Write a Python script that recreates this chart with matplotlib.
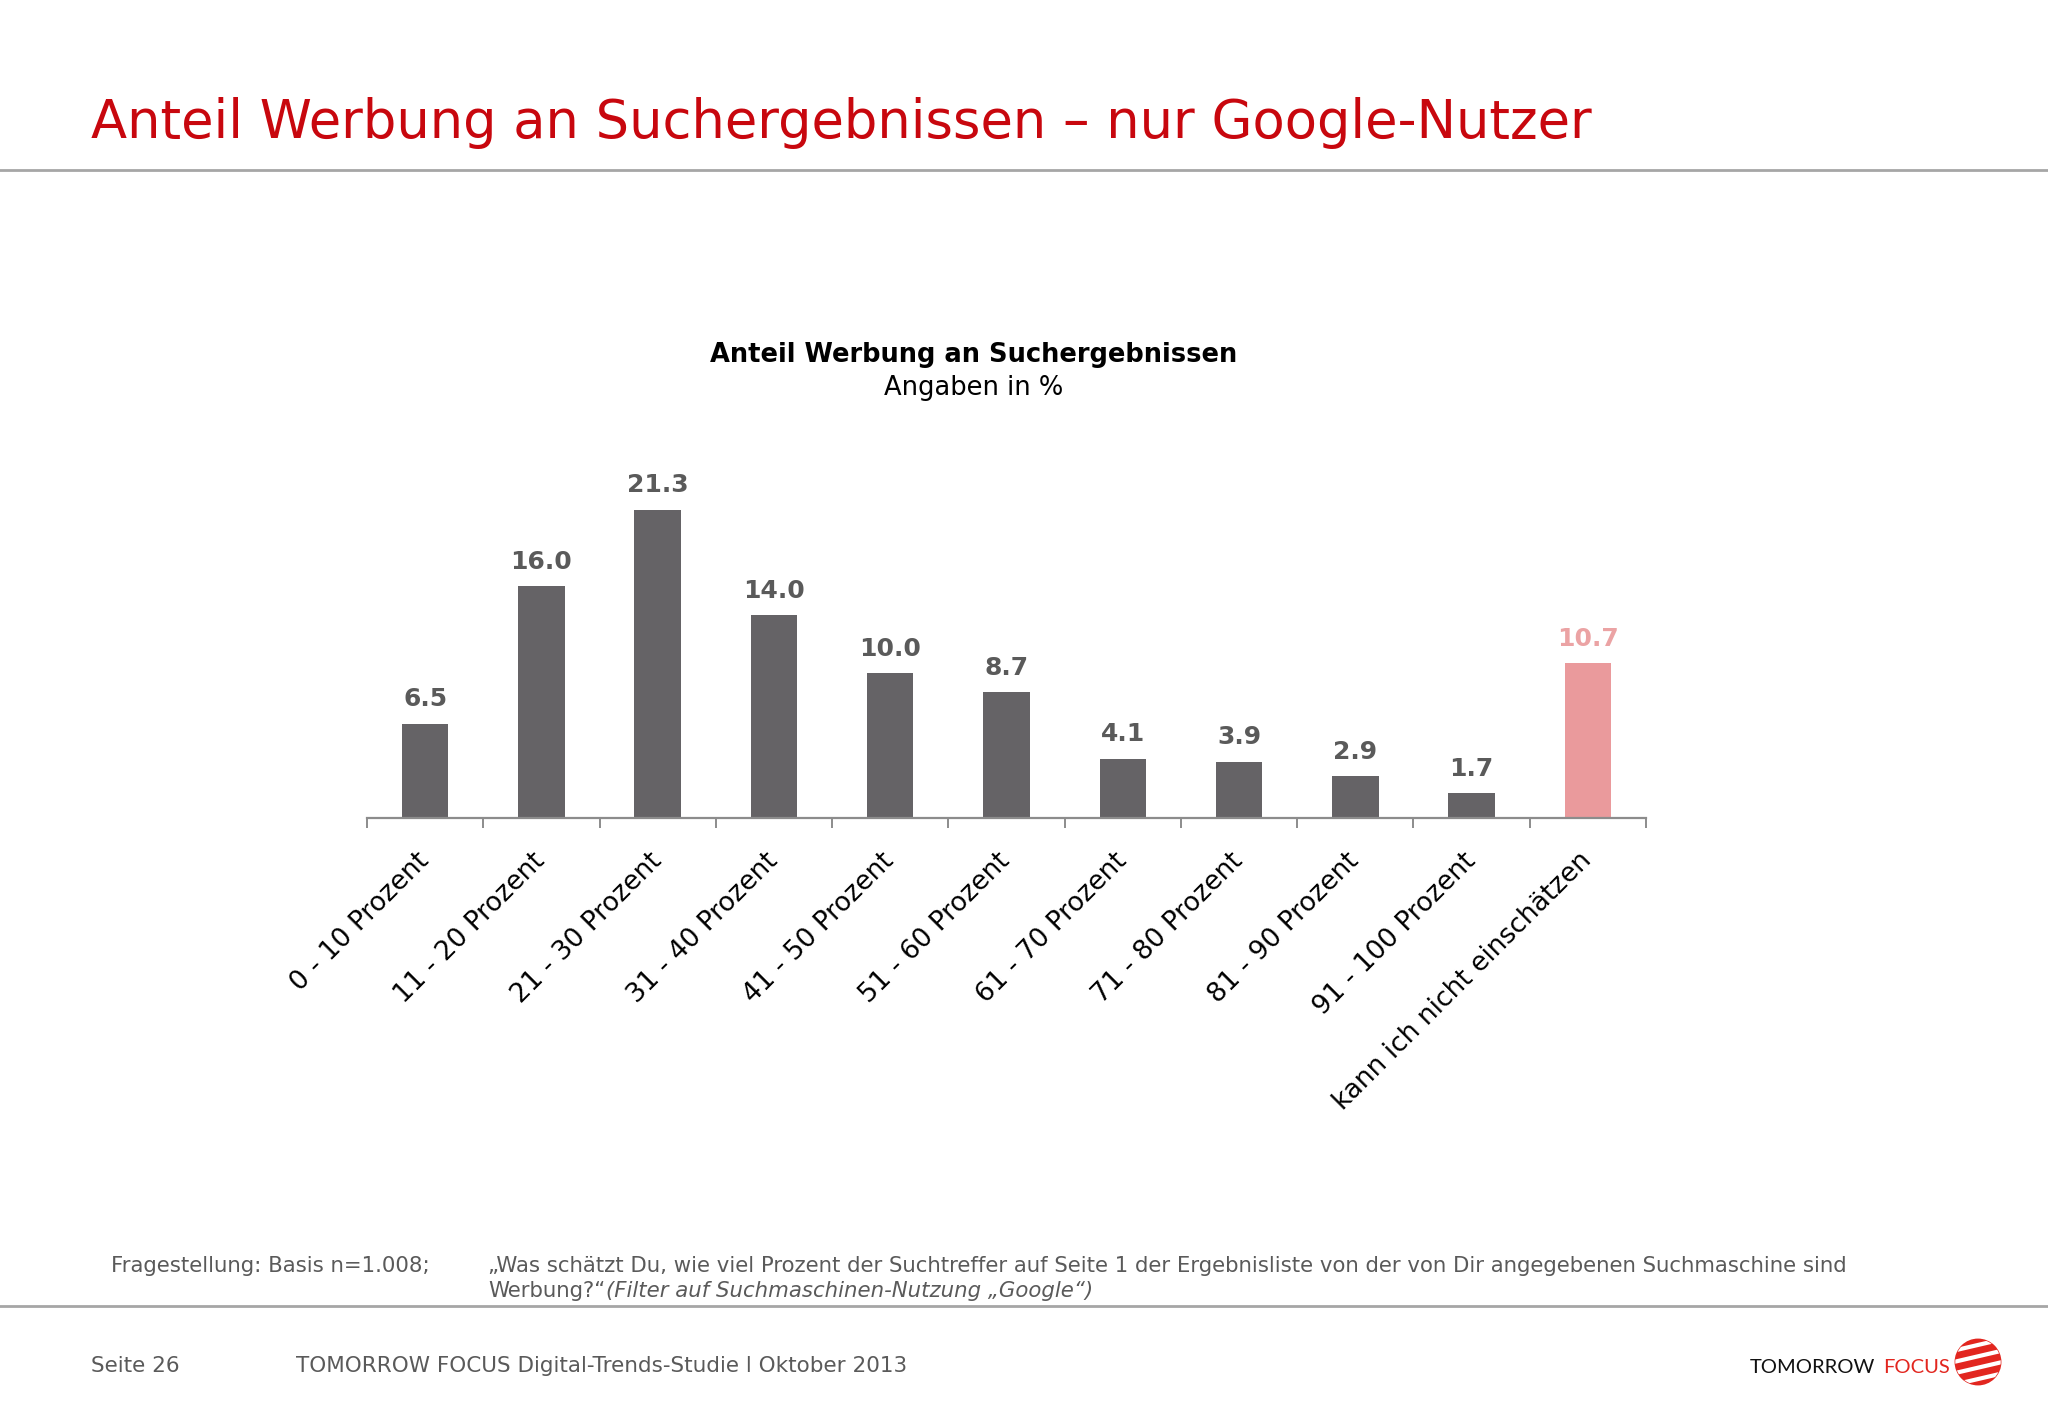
import matplotlib
matplotlib.use("Agg")
import matplotlib.pyplot as plt
import numpy as np

categories = ["0 - 10 Prozent", "11 - 20 Prozent", "21 - 30 Prozent", "31 - 40 Prozent",
              "41 - 50 Prozent", "51 - 60 Prozent", "61 - 70 Prozent", "71 - 80 Prozent",
              "81 - 90 Prozent", "91 - 100 Prozent", "kann ich nicht einschätzen"]
values = [6.5, 16.0, 21.3, 14.0, 10.0, 8.7, 4.1, 3.9, 2.9, 1.7, 10.7]
highlight = "kann ich nicht einschätzen"

GREY_BAR = "#656366"
PINK_BAR = "#EA9A9C"
GREY_TXT = "#5a5a5a"
PINK_TXT = "#EBA3A4"
RED = "#C8070E"
LINE = "#a6a6a6"

W, H = 2048, 1418
fig = plt.figure(figsize=(W / 100, H / 100), dpi=100)
fig.patch.set_facecolor("white")

def fx(px):
    return px / W

def fy(py):
    return 1 - py / H

# page title + rules
fig.text(fx(91), fy(138), "Anteil Werbung an Suchergebnissen \u2013 nur Google-Nutzer",
         color=RED, fontsize=38, ha="left", va="baseline")
fig.add_artist(plt.Line2D([0, 1], [fy(170), fy(170)], color=LINE, lw=2))
fig.add_artist(plt.Line2D([0, 1], [fy(1306), fy(1306)], color=LINE, lw=2))

# chart heading
fig.text(fx(974), fy(355), "Anteil Werbung an Suchergebnissen", fontsize=18.5,
         fontweight="bold", color="black", ha="center", va="center")
fig.text(fx(974), fy(388), "Angaben in %", fontsize=18.5, color="black",
         ha="center", va="center")

# bar axes
ymax = 25
px_per_unit = 14.47
ax_h = ymax * px_per_unit
ax = fig.add_axes([fx(367), fy(818), fx(1646) - fx(367), ax_h / H])
x = np.arange(len(categories))
colors = [PINK_BAR if c == highlight else GREY_BAR for c in categories]
bars = ax.bar(x, values, width=0.4, color=colors, zorder=2)
for xi, v, c in zip(x, values, categories):
    ax.annotate(f"{v:.1f}", (xi, v), xytext=(0, 9), textcoords="offset points",
                ha="center", va="bottom", fontsize=18, fontweight="bold",
                color=PINK_TXT if c == highlight else GREY_TXT)

ax.set_xlim(-0.5, len(categories) - 0.5)
ax.set_ylim(0, ymax)
for s in ["top", "right", "left"]:
    ax.spines[s].set_visible(False)
ax.spines["bottom"].set_color("#8c8c8c")
ax.spines["bottom"].set_linewidth(1.6)
ax.set_yticks([])
ax.set_xticks(np.arange(-0.5, len(categories)), minor=True)
ax.tick_params(axis="x", which="minor", length=7, width=1.4, color="#8c8c8c")
ax.set_xticks(x)
ax.set_xticklabels(categories, rotation=45, ha="right", va="center",
                   rotation_mode="anchor", fontsize=19)
ax.tick_params(axis="x", which="major", length=0, pad=28)
ax.patch.set_alpha(0)

# footnote
foot_kw = dict(fontsize=15.3, color=GREY_TXT, ha="left", va="baseline")
fig.text(fx(111), fy(1272), "Fragestellung: Basis n=1.008;", **foot_kw)
fig.text(fx(488), fy(1272), "\u201eWas schätzt Du, wie viel Prozent der Suchtreffer auf Seite 1 "
         "der Ergebnisliste von der von Dir angegebenen Suchmaschine sind", **foot_kw)
t2 = fig.text(fx(488), fy(1297), "Werbung?\u201c", **foot_kw)
fig.canvas.draw()
bb = t2.get_window_extent()
fig.text(fx(bb.x1 + 1), fy(1297), "(Filter auf Suchmaschinen-Nutzung \u201eGoogle\u201c)",
         style="italic", **foot_kw)

# page footer
fig.text(fx(91), fy(1372), "Seite 26", fontsize=15.5, color=GREY_TXT, ha="left", va="baseline")
fig.text(fx(296), fy(1372), "TOMORROW FOCUS Digital-Trends-Studie l Oktober 2013",
         fontsize=15.5, color=GREY_TXT, ha="left", va="baseline")

# logo
lt = fig.text(fx(1750), fy(1373), "TOMORROW", fontsize=14.5, color="#111111",
              family="Lato", ha="left", va="baseline")
fig.canvas.draw()
lb = lt.get_window_extent()
fig.text(fx(lb.x1 + 8), fy(1373), "FOCUS", fontsize=14.5, color="#E2261F",
         family="Lato", ha="left", va="baseline")
lax = fig.add_axes([fx(1953), fy(1387), fx(50), 50 / H])
lax.set_xlim(-1.1, 1.1)
lax.set_ylim(-1.1, 1.1)
lax.set_aspect("equal")
lax.axis("off")
circ = plt.Circle((0, 0), 1, color="#E2261F")
lax.add_patch(circ)
for off in [-0.75, -0.25, 0.25, 0.75]:
    ln, = lax.plot([-1.5, 1.5], [off - 0.35, off + 0.35], color="white", lw=3)
    ln.set_clip_path(circ)

fig.savefig("out.png", dpi=100, facecolor="white")
